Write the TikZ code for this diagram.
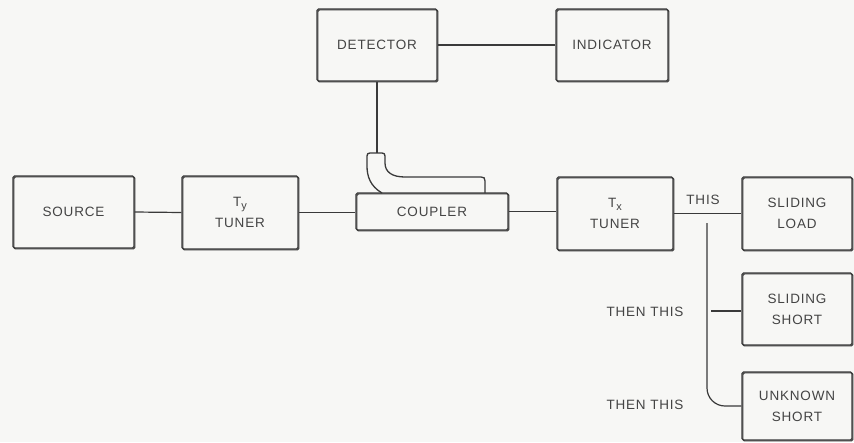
\documentclass[tikz,border=0pt]{standalone}
\usepackage{fontspec}
\setmainfont{Liberation Sans}[LetterSpace=6]
\definecolor{ink}{HTML}{3A3A3A}
\definecolor{txt}{HTML}{444444}
\definecolor{paper}{HTML}{F7F7F5}
\newcommand{\lowsub}[1]{\raisebox{-3pt}{\fontsize{11}{11}\selectfont #1}}
\tikzset{
  box/.style={draw=ink, line width=1.3pt, rounded corners=1.5pt, align=center,
    text=txt, font=\fontsize{13.5}{21}\selectfont, inner sep=0pt,
    preaction={draw=ink, line width=1.1pt, transform canvas={shift={(0.9pt,-0.9pt)}}}},
  conn/.style={draw=ink, line width=1.2pt},
  lbl/.style={text=txt, font=\fontsize{13.5}{16}\selectfont, inner sep=0pt}
}
\begin{document}
\begin{tikzpicture}[x=1pt,y=-1pt]
\fill[paper] (0,0) rectangle (854,442);
\useasboundingbox (0,0) rectangle (854,442);
% boxes
\node[box, minimum width=121pt, minimum height=72pt] (source) at (73.5,212) {SOURCE};
\node[box, minimum width=116pt, minimum height=73pt] (ty) at (240,212.5) {T\lowsub{y}\\TUNER};
\node[box, minimum width=152pt, minimum height=37pt] (coupler) at (432,211.5) {COUPLER};
\node[box, minimum width=120pt, minimum height=72pt] (detector) at (377,45) {DETECTOR};
\node[box, minimum width=112pt, minimum height=72pt] (indicator) at (612,45) {INDICATOR};
\node[box, minimum width=116pt, minimum height=73pt] (tx) at (615,213.5) {T\lowsub{x}\\TUNER};
\node[box, minimum width=110pt, minimum height=73pt] (sload) at (797,213.5) {SLIDING\\LOAD};
\node[box, minimum width=110pt, minimum height=72pt] (sshort) at (797,309) {SLIDING\\SHORT};
\node[box, minimum width=110pt, minimum height=68pt] (ushort) at (797,406) {UNKNOWN\\SHORT};
% coupler arm
\coordinate (armtop) at (377,153);
\draw[ink, line width=1.3pt, line join=round]
  (382,193) .. controls (370,186) and (367,176) .. (367,166) -- (367,156)
  .. controls (367,154) and (368,153) .. (370,153) -- (382,153)
  .. controls (384,153) and (385,154) .. (385,156) -- (385,163)
  .. controls (385,172) and (392,177) .. (405,177) -- (481,177)
  .. controls (484,177) and (485,178) .. (485,181) -- (485,193);
% connectors
\draw[conn] (source.east) -- (ty.west);
\draw[conn] (ty.east) -- (ty.east -| coupler.west);
\draw[conn] (coupler.east) -- (coupler.east -| tx.west);
\draw[conn] (detector.east) -- (indicator.west);
\draw[conn] (detector.south) -- (armtop);
\draw[conn] (tx.east) -- (sload.west);
\coordinate (br) at (707,223);
\draw[conn, rounded corners=18pt] (br) |- (ushort.west);
\coordinate (dsh) at (711,311);
\draw[conn] (dsh) -- (dsh -| sshort.west);
% labels
\node[lbl] (this1) at (703,200) {THIS};
\node[lbl] (then1) at (645,312) {THEN THIS};
\node[lbl] (then2) at (645,405) {THEN THIS};
\end{tikzpicture}
\end{document}
